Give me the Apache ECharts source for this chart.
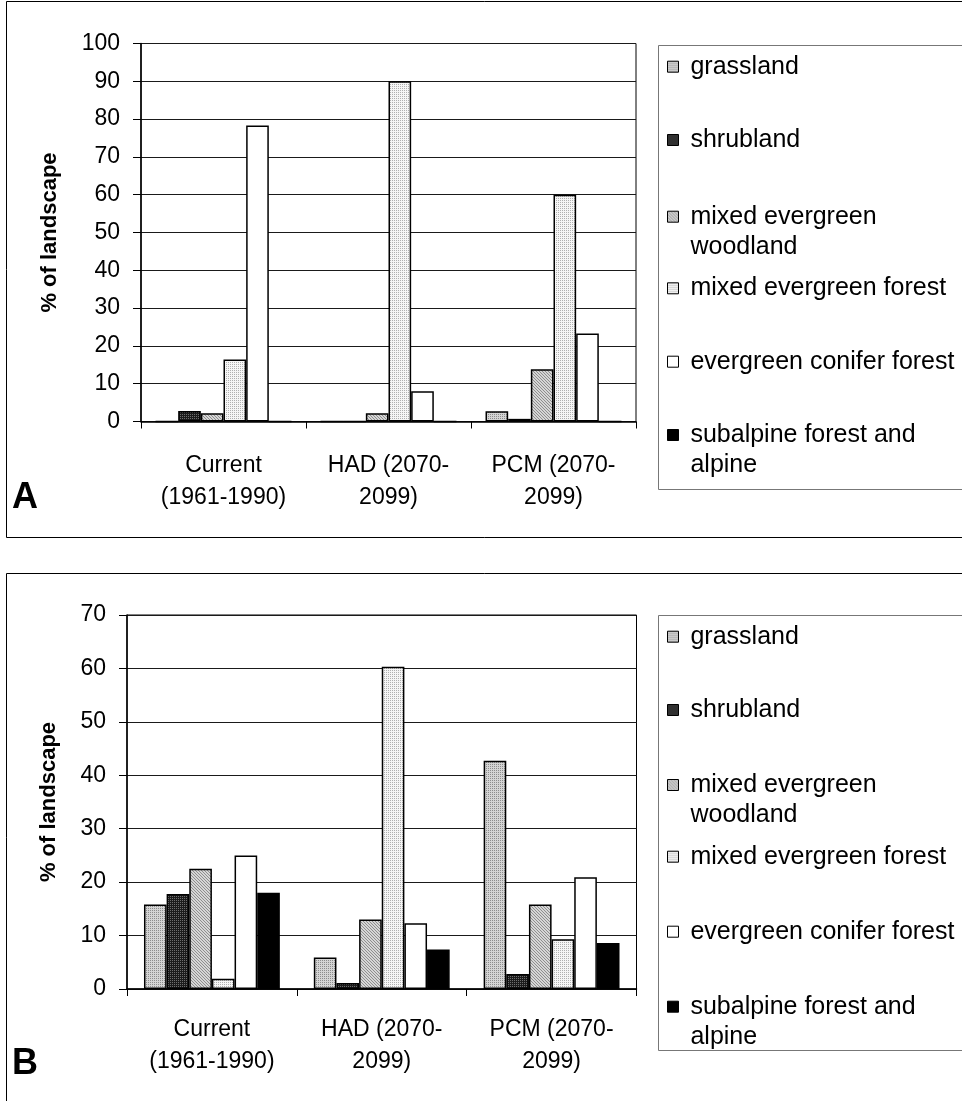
<!DOCTYPE html>
<html>
<head>
<meta charset="utf-8">
<script src="https://cdn.jsdelivr.net/npm/echarts@6/dist/echarts.min.js"></script>
<style>
  html, body { margin: 0; padding: 0; background: #fff; }
  #chart { width: 962px; height: 1101px; }
</style>
</head>
<body>
<div id="chart"></div>
<script>
// ---- data ----
const categories = ['Current\n(1961-1990)', 'HAD (2070-\n2099)', 'PCM (2070-\n2099)'];
const seriesNames = ['grassland', 'shrubland', 'mixed evergreen woodland',
  'mixed evergreen forest', 'evergreen conifer forest', 'subalpine forest and alpine'];
const legendLines = [['grassland'], ['shrubland'], ['mixed evergreen', 'woodland'],
  ['mixed evergreen forest'], ['evergreen conifer forest'], ['subalpine forest and', 'alpine']];

// Panel A: % of landscape per vegetation type
const grasslandA = [0, 0, 2.7];
const shrublandA = [2.8, 0, 0.7];
const woodlandA  = [2.2, 2.2, 13.8];
const forestA    = [16.4, 90, 60];
const coniferA   = [78.3, 8, 23.3];
const subalpineA = [0, 0, 0];

// Panel B: % of landscape per vegetation type
const grasslandB = [15.8, 5.9, 42.7];
const shrublandB = [17.8, 1.1, 2.8];
const woodlandB  = [22.5, 13, 15.8];
const forestB    = [1.9, 60.3, 9.3];
const coniferB   = [25, 12.3, 20.9];
const subalpineB = [18, 7.4, 8.6];

const yMaxA = 100, yMaxB = 70, yStep = 10;
const panelLetters = ['A', 'B'];
const yTitle = '% of landscape';

// ---- fill patterns ----
function pattern(bg, fg, size, pts) {
  const c = document.createElement('canvas');
  c.width = c.height = size;
  const g = c.getContext('2d');
  g.fillStyle = bg; g.fillRect(0, 0, size, size);
  g.fillStyle = fg;
  pts.forEach(p => g.fillRect(p[0], p[1], 1, 1));
  return { image: c, repeat: 'repeat' };
}
const fills = [
  pattern('#d4d4d4', '#8c8c8c', 2, [[0, 0]]),                 // grassland
  pattern('#1c1c1c', '#6e6e6e', 2, [[0, 0]]),                 // shrubland
  pattern('#d6d6d6', '#8e8e8e', 3, [[0, 0], [1, 1], [2, 2]]), // woodland
  pattern('#f6f6f6', '#b0b0b0', 2, [[0, 0]]),                 // mixed evergreen forest
  '#ffffff',                                                  // conifer forest
  '#000000'                                                   // subalpine
];

const FONT = 'Liberation Sans, Arial, sans-serif';

const panels = [
  { data: [grasslandA, shrublandA, woodlandA, forestA, coniferA, subalpineA], max: yMaxA,
    grid: { left: 141, top: 43.5, width: 495, height: 378 }, gap: '17.6%', labelMargin: 28,
    nameGap: 80, legendTop: 45, legendBottom: 489, letterY: 498,
    legendCenters: [66.7, 140, 216.7, 288.3, 361.7, 435], frame: [6, 1, 536] },
  { data: [grasslandB, shrublandB, woodlandB, forestB, coniferB, subalpineB], max: yMaxB,
    grid: { left: 127, top: 615, width: 509.5, height: 374 }, gap: '20%', labelMargin: 25,
    nameGap: 67, legendTop: 615, legendBottom: 1050, letterY: 1064,
    legendCenters: [636.7, 710, 785, 856.7, 931.7, 1006.7], frame: [6, 573, 600] }
];

const grids = [], xAxes = [], yAxes = [], series = [], legends = [], graphics = [];

panels.forEach((p, pi) => {
  grids.push(Object.assign({ show: true, borderColor: '#000', borderWidth: 1, containLabel: false }, p.grid));
  xAxes.push({
    type: 'category', gridIndex: pi, data: categories,
    axisLine: { lineStyle: { color: '#000', width: 1.5 } },
    axisTick: { show: true, length: 7, lineStyle: { color: '#000', width: 1 } },
    axisLabel: { interval: 0, color: '#000', fontFamily: FONT, fontSize: 23, lineHeight: 32, margin: p.labelMargin },
    splitLine: { show: false }
  });
  yAxes.push({
    type: 'value', gridIndex: pi, min: 0, max: p.max, interval: yStep,
    name: yTitle, nameLocation: 'middle', nameRotate: 90, nameGap: p.nameGap,
    nameTextStyle: { color: '#000', fontFamily: FONT, fontSize: 22, fontWeight: 'bold' },
    axisLine: { show: true, lineStyle: { color: '#000', width: 1.5 } },
    axisTick: { show: true, length: 8, lineStyle: { color: '#000', width: 1 } },
    axisLabel: { color: '#000', fontFamily: FONT, fontSize: 23, margin: 21 },
    splitLine: { show: true, lineStyle: { color: '#1a1a1a', width: 1 } }
  });
  seriesNames.forEach((name, si) => {
    series.push({
      type: 'bar', name: name, xAxisIndex: pi, yAxisIndex: pi,
      data: p.data[si], barGap: '0%', barCategoryGap: p.gap,
      itemStyle: { color: fills[si], borderColor: '#000', borderWidth: 1.5 },
      emphasis: { disabled: true }, animation: false
    });
  });
  // one legend per entry so that multi-line entries keep the marker on the first line
  seriesNames.forEach((name, si) => {
    const lines = legendLines[si];
    const text = lines.length > 1 ? '\n ' + lines.join('\n ') : ' ' + lines[0];
    legends.push({
      data: [name], orient: 'vertical', left: 667, padding: 0,
      top: p.legendCenters[si] - (lines.length > 1 ? 45 : 15),
      icon: 'rect', itemWidth: 11, itemHeight: 11, selectedMode: false,
      itemStyle: { borderColor: '#000', borderWidth: 1 },
      formatter: () => text,
      textStyle: { color: '#000', fontFamily: FONT, fontSize: 25, lineHeight: 30 }
    });
  });
  // panel frame, legend frame and panel letter
  graphics.push({
    type: 'rect', silent: true, z: -1,
    shape: { x: p.frame[0] + 0.5, y: p.frame[1] + 0.5, width: 1000, height: p.frame[2] },
    style: { fill: null, stroke: '#000', lineWidth: 1 }
  });
  graphics.push({
    type: 'rect', silent: true, z: -1,
    shape: { x: 658.5, y: p.legendTop + 0.5, width: 400, height: p.legendBottom - p.legendTop },
    style: { fill: null, stroke: '#777', lineWidth: 1 }
  });
  graphics.push({
    type: 'text', silent: true, x: 12, y: p.letterY,
    style: { text: panelLetters[pi], fill: '#000', font: 'bold 36px ' + FONT, verticalAlign: 'middle' }
  });
});

const chart = echarts.init(document.getElementById('chart'), null, { renderer: 'canvas' });
chart.setOption({
  animation: false,
  backgroundColor: '#fff',
  grid: grids, xAxis: xAxes, yAxis: yAxes, series: series,
  legend: legends, graphic: graphics
});
</script>
</body>
</html>
